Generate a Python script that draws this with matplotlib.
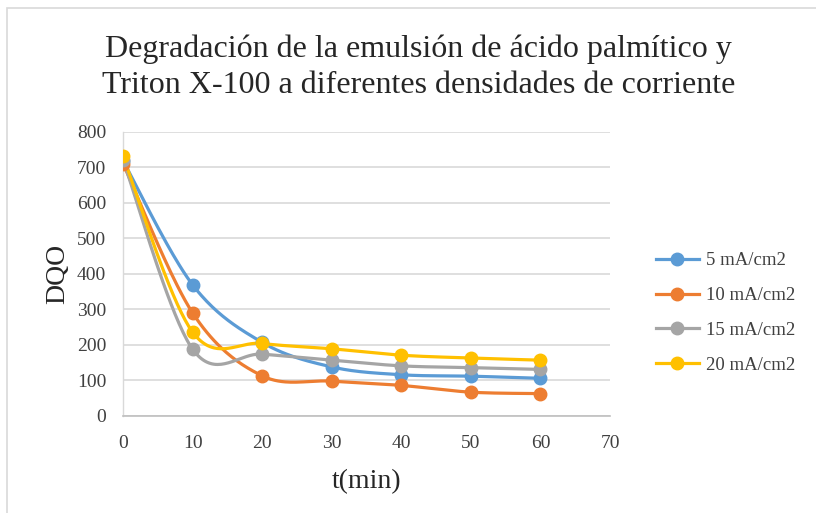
import numpy as np
import matplotlib
matplotlib.use("Agg")
import matplotlib.pyplot as plt
from matplotlib.patches import Rectangle

# Chemical oxygen demand (DQO) over time for each current density
t_min = [0, 10, 20, 30, 40, 50, 60]
series_labels = ["5 mA/cm2", "10 mA/cm2", "15 mA/cm2", "20 mA/cm2"]
dqo_5 = [718, 369, 207, 138, 116, 112, 106]
dqo_10 = [710, 290, 113, 98, 86, 67, 63]
dqo_15 = [720, 188, 174, 157, 141, 136, 131]
dqo_20 = [730, 236, 204, 189, 171, 163, 157]
series_values = [dqo_5, dqo_10, dqo_15, dqo_20]
series_colors = ["#5B9BD5", "#ED7D31", "#A5A5A5", "#FFC000"]

x_ticks = [0, 10, 20, 30, 40, 50, 60, 70]
y_ticks = [0, 100, 200, 300, 400, 500, 600, 700, 800]

serif = ["Liberation Serif", "DejaVu Serif"]
plt.rcParams["font.family"] = serif

fig = plt.figure(figsize=(8.16, 5.13), dpi=100)
ax = fig.add_axes([123 / 816, 1 - 416 / 513, (610 - 123) / 816, (416 - 131.5) / 513])
ax.set_xlim(0, 70)
ax.set_ylim(0, 800)


def smooth_curve(ax, xs, ys, n=40):
    """Smoothed polyline through the points (cubic Bezier, Catmull-Rom tangents in screen space)."""
    pts = ax.transData.transform(np.column_stack([xs, ys]))
    m = len(pts)
    out = []
    for i in range(m - 1):
        p0 = pts[i - 1] if i > 0 else pts[i]
        p1 = pts[i]
        p2 = pts[i + 1]
        p3 = pts[i + 2] if i + 2 < m else pts[i + 1]
        c1 = p1 + (p2 - p0) / 6.0
        c2 = p2 - (p3 - p1) / 6.0
        s = np.linspace(0, 1, n)[:, None]
        seg = ((1 - s) ** 3) * p1 + 3 * ((1 - s) ** 2) * s * c1 + 3 * (1 - s) * s ** 2 * c2 + s ** 3 * p2
        out.append(seg if i == 0 else seg[1:])
    curve = ax.transData.inverted().transform(np.vstack(out))
    return curve[:, 0], curve[:, 1]


for label, vals, col in zip(series_labels, series_values, series_colors):
    cx, cy = smooth_curve(ax, t_min, vals)
    ax.plot(cx, cy, color=col, lw=2.3, solid_capstyle="round", zorder=3)
    ax.plot(t_min, vals, linestyle="none", marker="o", ms=9, color=col, zorder=4)
    # legend handle
    ax.plot([], [], color=col, lw=2.3, marker="o", ms=9, label=label)

ax.set_xticks(x_ticks)
ax.set_yticks(y_ticks)
ax.grid(axis="y", color="#D9D9D9", lw=1.2)
ax.set_axisbelow(True)
for side in ["top", "right"]:
    ax.spines[side].set_visible(False)
ax.spines["left"].set_color("#D9D9D9")
ax.spines["bottom"].set_color("#BFBFBF")
ax.spines["left"].set_linewidth(1.0)
ax.spines["bottom"].set_linewidth(1.2)
ax.tick_params(length=0, labelsize=14, colors="#595959")
ax.tick_params(axis="y", pad=12)
ax.tick_params(axis="x", pad=14)
for lab in ax.get_xticklabels() + ax.get_yticklabels():
    lab.set_color("#404040")

ax.set_xlabel("t(min)", fontsize=20, color="#262626", labelpad=12)
ax.set_ylabel("DQO", fontsize=20, color="#262626", labelpad=5)

fig.text(0.513, 1 - 67 / 513, "Degradación de la emulsión de ácido palmítico y\nTriton X-100 a diferentes densidades de corriente",
         ha="center", va="center", fontsize=23, color="#262626", linespacing=1.3)

leg = ax.legend(loc="center left", bbox_to_anchor=(639 / 816, 1 - 313 / 513), bbox_transform=fig.transFigure,
                frameon=False, fontsize=13.5, handlelength=2.3, labelspacing=0.95, handletextpad=0.35)
for txt in leg.get_texts():
    txt.set_color("#404040")

# chart frame
fig.patches.append(Rectangle((7 / 816, -0.01), 1.0, 1 - 8 / 513 + 0.01, transform=fig.transFigure,
                             fill=False, edgecolor="#D9D9D9", lw=1.2))

fig.savefig("out.png", dpi=100)
